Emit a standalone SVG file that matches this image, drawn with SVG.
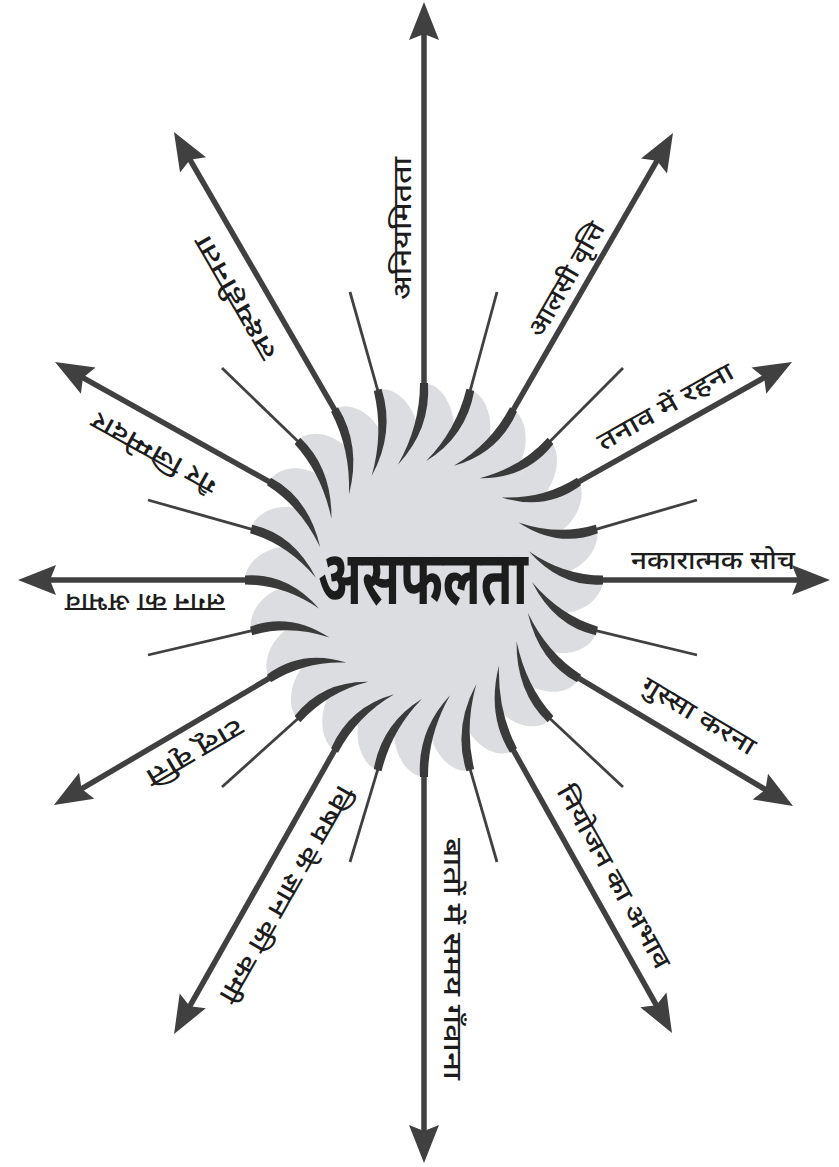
<svg xmlns="http://www.w3.org/2000/svg" xmlns:xlink="http://www.w3.org/1999/xlink" width="839" height="1167" viewBox="0 0 839 1167">
<defs>
<style>
.ray{stroke:#404040;stroke-width:5.5;fill:none}
.thin{stroke:#404040;stroke-width:2.8;fill:none}
.lbl{font-family:'Noto Sans Devanagari','Noto Sans','Lohit Devanagari','FreeSans',sans-serif;font-size:25px;font-weight:500;fill:#1c1c1c;text-anchor:middle}
.title{font-family:'Noto Sans Devanagari','Noto Sans','Lohit Devanagari','FreeSans',sans-serif;font-size:76px;font-weight:bold;fill:#1c1c1c;text-anchor:middle}
.lobes{fill:#dcdde0}
.hooks{fill:#3a3a3a}
</style>
<marker id="ah" markerUnits="userSpaceOnUse" orient="auto" markerWidth="60" markerHeight="40" viewBox="-20 -20 60 40" refX="0" refY="0" overflow="visible">
<path d="M20,0 L-18,-15 L-12,0 L-18,15 Z" fill="#404040"/>
</marker>
<path id="lobe" d="M0,0 L178,0 C181,10 165,30 137.6,30.1 Q153.6,41.15 171.9,46.07 Z"/>
<path id="hook" d="M179,-4 Q140,-4 104.8,-26.1 Q137,7 179,4 Z"/>
</defs>

<g id="connectors">
<line class="ray" x1="424" y1="384.2" x2="424" y2="22" marker-end="url(#ah)"/>
<line class="ray" x1="513" y1="410.4" x2="663" y2="150.3" marker-end="url(#ah)"/>
<line class="ray" x1="578.2" y1="482.1" x2="774.6" y2="371.8" marker-end="url(#ah)"/>
<line class="ray" x1="602" y1="580" x2="810" y2="580" marker-end="url(#ah)"/>
<line class="ray" x1="578.2" y1="677.9" x2="775.8" y2="795.8" marker-end="url(#ah)"/>
<line class="ray" x1="513" y1="749.6" x2="662.2" y2="1015.6" marker-end="url(#ah)"/>
<line class="ray" x1="424" y1="775.8" x2="424" y2="1143" marker-end="url(#ah)"/>
<line class="ray" x1="335" y1="749.6" x2="183.9" y2="1016.6" marker-end="url(#ah)"/>
<line class="ray" x1="269.9" y1="677.9" x2="71.2" y2="794.9" marker-end="url(#ah)"/>
<line class="ray" x1="246" y1="580" x2="38" y2="580" marker-end="url(#ah)"/>
<line class="ray" x1="269.9" y1="482.1" x2="72.5" y2="371.8" marker-end="url(#ah)"/>
<line class="ray" x1="335" y1="410.4" x2="184" y2="149.3" marker-end="url(#ah)"/>
<line class="thin" x1="470.1" y1="390.9" x2="497" y2="292"/>
<line class="thin" x1="549.9" y1="441.6" x2="623" y2="368"/>
<line class="thin" x1="595.9" y1="529.3" x2="697" y2="500"/>
<line class="thin" x1="595.9" y1="630.7" x2="697" y2="655"/>
<line class="thin" x1="549.9" y1="718.5" x2="623" y2="787"/>
<line class="thin" x1="470.1" y1="769.1" x2="497" y2="862"/>
<line class="thin" x1="377.9" y1="769.1" x2="350" y2="862"/>
<line class="thin" x1="298.1" y1="718.5" x2="222" y2="787"/>
<line class="thin" x1="252.1" y1="630.7" x2="148" y2="655"/>
<line class="thin" x1="252.1" y1="529.3" x2="148" y2="500"/>
<line class="thin" x1="298.1" y1="441.6" x2="222" y2="368"/>
<line class="thin" x1="377.9" y1="390.9" x2="350" y2="292"/>
</g>

<g id="sun" transform="translate(424,580) scale(1,1.1)">
<circle class="lobes" cx="0" cy="0" r="136"/>
<g class="lobes">
<use xlink:href="#lobe" transform="rotate(-90)"/><use xlink:href="#lobe" transform="rotate(-75)"/><use xlink:href="#lobe" transform="rotate(-60)"/><use xlink:href="#lobe" transform="rotate(-45)"/><use xlink:href="#lobe" transform="rotate(-30)"/><use xlink:href="#lobe" transform="rotate(-15)"/><use xlink:href="#lobe" transform="rotate(0)"/><use xlink:href="#lobe" transform="rotate(15)"/><use xlink:href="#lobe" transform="rotate(30)"/><use xlink:href="#lobe" transform="rotate(45)"/><use xlink:href="#lobe" transform="rotate(60)"/><use xlink:href="#lobe" transform="rotate(75)"/><use xlink:href="#lobe" transform="rotate(90)"/><use xlink:href="#lobe" transform="rotate(105)"/><use xlink:href="#lobe" transform="rotate(120)"/><use xlink:href="#lobe" transform="rotate(135)"/><use xlink:href="#lobe" transform="rotate(150)"/><use xlink:href="#lobe" transform="rotate(165)"/><use xlink:href="#lobe" transform="rotate(180)"/><use xlink:href="#lobe" transform="rotate(195)"/><use xlink:href="#lobe" transform="rotate(210)"/><use xlink:href="#lobe" transform="rotate(225)"/><use xlink:href="#lobe" transform="rotate(240)"/><use xlink:href="#lobe" transform="rotate(255)"/>
</g>
<g class="hooks">
<use xlink:href="#hook" transform="rotate(-90)"/><use xlink:href="#hook" transform="rotate(-75)"/><use xlink:href="#hook" transform="rotate(-60)"/><use xlink:href="#hook" transform="rotate(-45)"/><use xlink:href="#hook" transform="rotate(-30)"/><use xlink:href="#hook" transform="rotate(-15)"/><use xlink:href="#hook" transform="rotate(0)"/><use xlink:href="#hook" transform="rotate(15)"/><use xlink:href="#hook" transform="rotate(30)"/><use xlink:href="#hook" transform="rotate(45)"/><use xlink:href="#hook" transform="rotate(60)"/><use xlink:href="#hook" transform="rotate(75)"/><use xlink:href="#hook" transform="rotate(90)"/><use xlink:href="#hook" transform="rotate(105)"/><use xlink:href="#hook" transform="rotate(120)"/><use xlink:href="#hook" transform="rotate(135)"/><use xlink:href="#hook" transform="rotate(150)"/><use xlink:href="#hook" transform="rotate(165)"/><use xlink:href="#hook" transform="rotate(180)"/><use xlink:href="#hook" transform="rotate(195)"/><use xlink:href="#hook" transform="rotate(210)"/><use xlink:href="#hook" transform="rotate(225)"/><use xlink:href="#hook" transform="rotate(240)"/><use xlink:href="#hook" transform="rotate(255)"/>
</g>
</g>

<g id="center"><text class="title" x="423" y="604" textLength="210" lengthAdjust="spacingAndGlyphs">असफलता</text></g>

<g id="n1" transform="translate(403.5,228.5) rotate(-90)"><text class="lbl" x="0" y="7" textLength="143" lengthAdjust="spacingAndGlyphs">अनियमितता</text></g>
<g id="n2" transform="translate(567.5,280) rotate(-60)"><text class="lbl" x="0" y="7" textLength="128" lengthAdjust="spacingAndGlyphs">आलसी वृत्ति</text></g>
<g id="n3" transform="translate(666,408) rotate(-29.3)"><text class="lbl" x="0" y="7" textLength="152" lengthAdjust="spacingAndGlyphs">तनाव में रहना</text></g>
<g id="n4" transform="translate(713,562)"><text class="lbl" x="0" y="7" textLength="164" lengthAdjust="spacingAndGlyphs">नकारात्मक सोच</text></g>
<g id="n5" transform="translate(698,717) rotate(30.8)"><text class="lbl" x="0" y="7" textLength="128" lengthAdjust="spacingAndGlyphs">गुस्सा करना</text></g>
<g id="n6" transform="translate(612.5,877.5) rotate(60.7)"><text class="lbl" x="0" y="7" textLength="206" lengthAdjust="spacingAndGlyphs">नियोजन का अभाव</text></g>
<g id="n7" transform="translate(451,959) rotate(90)"><text class="lbl" x="0" y="7" textLength="242" lengthAdjust="spacingAndGlyphs">बातों में समय गँवाना</text></g>
<g id="n8" transform="translate(285,893.5) rotate(119.5)"><text class="lbl" x="0" y="7" textLength="245" lengthAdjust="spacingAndGlyphs">विषय के ज्ञान की कमी</text></g>
<g id="n9" transform="translate(194,751.5) rotate(149.5)"><text class="lbl" x="0" y="7" textLength="108" lengthAdjust="spacingAndGlyphs">टालू वृत्ति</text></g>
<g id="n10" transform="translate(145,601) rotate(180)"><text class="lbl" x="0" y="7" textLength="160" lengthAdjust="spacingAndGlyphs">लगन का अभाव</text></g>
<g id="n11" transform="translate(155,451.5) rotate(209.2)"><text class="lbl" x="0" y="7" textLength="140" lengthAdjust="spacingAndGlyphs">गैर जिम्मेदार</text></g>
<g id="n12" transform="translate(236.5,297) rotate(240)"><text class="lbl" x="0" y="7" textLength="139" lengthAdjust="spacingAndGlyphs">लक्ष्यहीनता</text></g>
</svg>
